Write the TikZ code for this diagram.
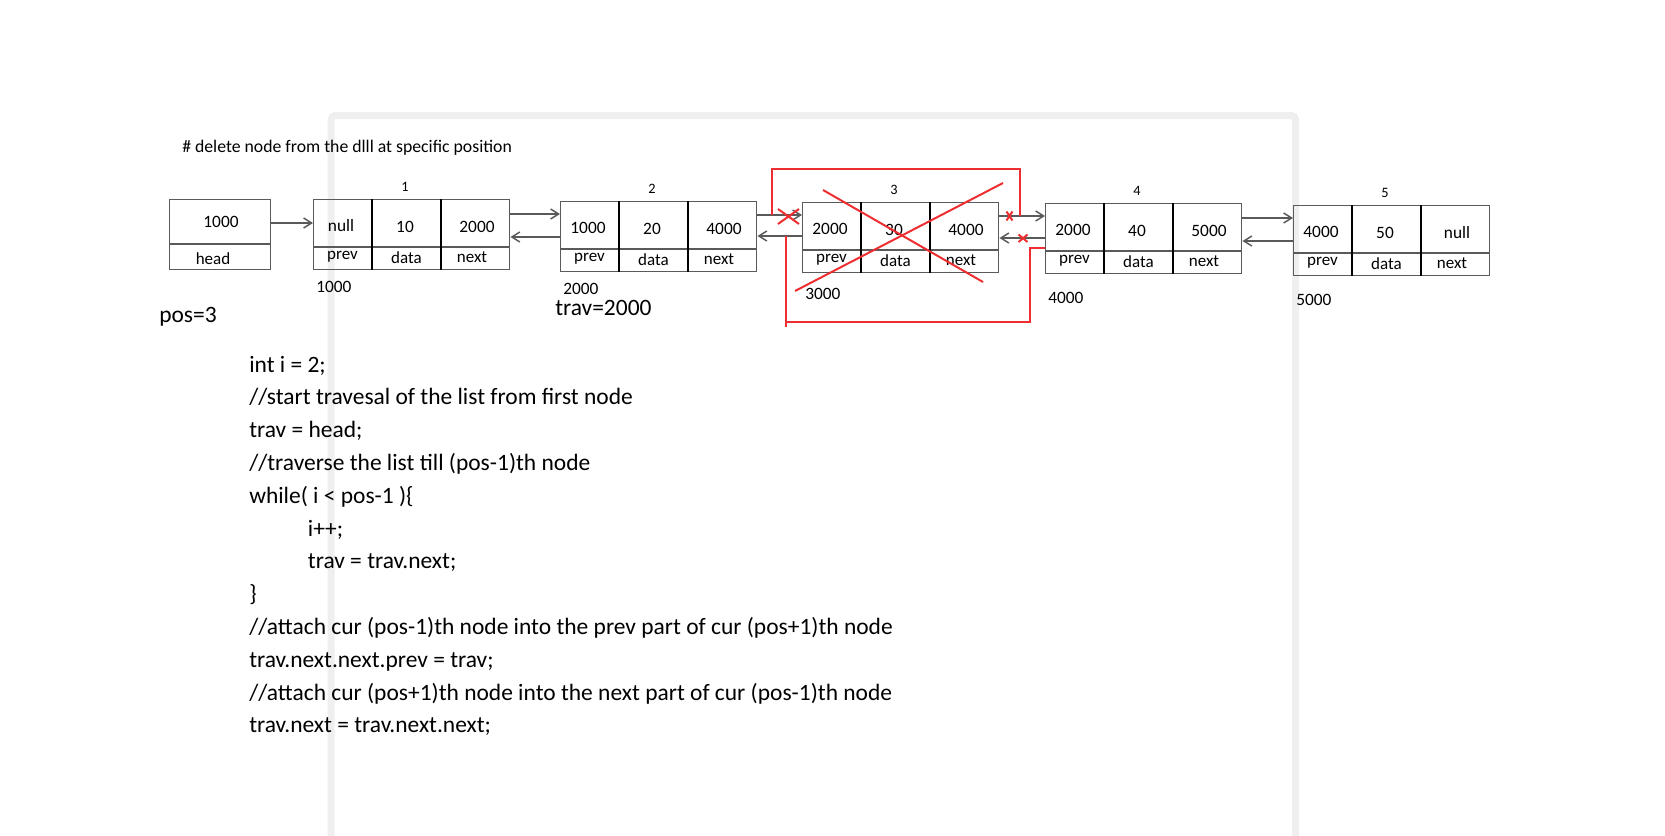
\documentclass[tikz,border=0pt]{standalone}
\usepackage{fontspec}
\setmainfont{Carlito}
\usetikzlibrary{arrows.meta,calc,positioning}
\definecolor{lred}{HTML}{EE2E31}
\definecolor{lgrey}{HTML}{5A5A5A}
\definecolor{pframe}{HTML}{EFEFEF}

\begin{document}
\begin{tikzpicture}[
  x=0.75pt, y=-0.75pt,
  box/.style={draw=lgrey, line width=1.1pt, minimum width=147pt, minimum height=52.5pt,
              inner sep=0pt, anchor=north west},
  val/.style={inner sep=0pt, font=\fontsize{13pt}{15pt}\selectfont},
  lab/.style={inner sep=0pt, font=\fontsize{12.75pt}{15pt}\selectfont},
  idx/.style={inner sep=0pt, font=\fontsize{10.75pt}{13pt}\selectfont},
  big/.style={inner sep=0pt, font=\fontsize{17.6pt}{21pt}\selectfont},
  cell/.style={line width=1.1pt},
  link/.style={-{Straight Barb[length=6pt, width=7.5pt]}, lgrey, line width=1.1pt},
  redl/.style={lred, line width=1.5pt},
]
\useasboundingbox (0,0) rectangle (1665,835);

% ---------------- the page frame ----------------
\draw[pframe, line width=5.25pt, rounded corners=3pt] (331,850) -- (331,115.5) -- (1295.5,115.5) -- (1295.5,850);

\node[anchor=base west, inner sep=0pt, font=\fontsize{13.3pt}{15pt}\selectfont] (title) at (182,152)
  {\# delete node from the dlll at specific position};

% ---------------- head ----------------
\node[box, minimum width=75.75pt] (head) at (169,199) {};
\draw[cell, lgrey] ($(head.north west)+(0,45)$) -- ($(head.north east)+(0,45)$);
\node[val] (headv) at ($(head.north west)+(52,23)$) {1000};
\node[lab] (headl) at ($(head.north west)+(44,60)$) {head};

% ---------------- the list nodes ----------------
\foreach \k/\x/\y/\pv/\dv/\nv/\ay in {1/313/199/null/10/2000/16, 2/560/201/1000/20/4000/16,
    3/802/202/2000/30/4000/20, 4/1045/203/2000/40/5000/23, 5/1293/205/4000/50/null/23} {
  \node[box] (n\k) at (\x,\y) {};
  \draw[cell, lgrey] ($(n\k.north west)+(0,48)$) -- ($(n\k.north east)+(0,48)$);
  \draw[cell] ($(n\k.north west)+(59,0)$) -- ($(n\k.south west)+(59,0)$);
  \draw[cell] ($(n\k.north west)+(128,0)$) -- ($(n\k.south west)+(128,0)$);
  \node[val] (n\k-p) at ($(n\k.north west)+(28,27)$) {\pv};
  \node[val] (n\k-d) at ($(n\k.north west)+(92,28)$) {\dv};
  \node[val] (n\k-n) at ($(n\k.north west)+(164,28)$) {\nv};
  \node[lab] (n\k-pl) at ($(n\k.north west)+(29.5,58)$) {prev};
  \node[lab] (n\k-dl) at ($(n\k.north west)+(93.5,59)$) {data};
  \node[lab] (n\k-nl) at ($(n\k.north west)+(159,58)$) {next};
  \node[idx] (i\k) at ($(n\k.north west)+(92,-12)$) {\k};
  \node[val, anchor=west] (a\k) at ($(n\k.south west)+(3,\ay)$) {\k000};
}

% ---------------- links ----------------
\coordinate (h0) at ($(head.north east)+(0,24)$);
\draw[link] (h0) -- (h0 -| n1.west);
\foreach \a/\b/\f/\r in {1/2/15/38, 2/3/14/35, 3/4/14/36, 4/5/15/38} {
  \coordinate (f\a) at ($(n\a.north east)+(0,\f)$);
  \coordinate (r\a) at ($(n\a.north east)+(0,\r)$);
  \draw[link] (f\a) -- (f\a -| n\b.west);
  \draw[link] (r\a -| n\b.west) -- (r\a);
}

% ---------------- the deletion, in red ----------------
\coordinate (rt1) at (772,215);
\coordinate (rt2) at (1020,216);
\draw[redl] (rt1) -- (772,169) -- (1020,169) -- (rt2);
\coordinate (rb1) at (786,236);
\coordinate (rb2) at (n4.west |- 0,248);
\draw[redl] (rb1) -- (786,327);
\draw[redl] (786,322) -- (1030,322) -- (1030,248) -- (rb2);
% crossed out node 3 and its old links
\draw[redl] (823,190) -- (983,282);
\draw[redl] (1003,183) -- (795,291);
\draw[redl] (778,209) -- (799,224) (778,224) -- (799,209);
\draw[redl] (1006.5,211.5) -- (1012.5,220.5) (1006.5,220.5) -- (1012.5,211.5);
\draw[redl] (1018.5,234.5) -- (1027.5,242) (1018.5,242) -- (1027.5,234.5);

\node[big, anchor=west] (trav) at (555,308) {trav=2000};
\node[big, anchor=west] (pos) at (159,317) {pos=3};

% ---------------- the code ----------------
\foreach \t [count=\i] in {{int i = 2;}, {//start travesal of the list from first node}, {trav = head;},
    {//traverse the list till (pos-1)th node}, {while( i < pos-1 )\{}, {\hspace*{44pt}i++;},
    {\hspace*{44pt}trav = trav.next;}, {\}}, {//attach cur (pos-1)th node into the prev part of cur (pos+1)th node},
    {trav.next.next.prev = trav;}, {//attach cur (pos+1)th node into the next part of cur (pos-1)th node},
    {trav.next = trav.next.next;}}
  \node[big, anchor=base west] (c\i) at (249,{372+32.8*(\i-1)}) {\t};

\end{tikzpicture}
\end{document}
